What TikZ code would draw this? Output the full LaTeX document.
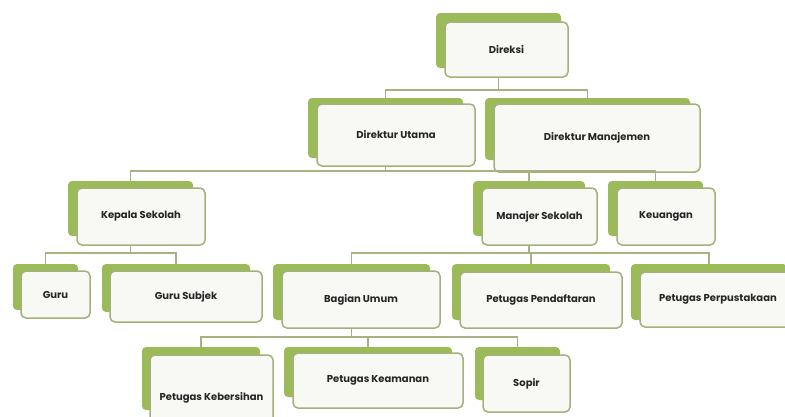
\documentclass[tikz,border=0pt]{standalone}
\usepackage{fontspec}
\setmainfont{Poppins}
\definecolor{leafgreen}{HTML}{9BBB59}
\definecolor{boxline}{HTML}{A3B27A}
\definecolor{linkline}{HTML}{A8B182}
\definecolor{boxfill}{HTML}{F8F8F5}
\definecolor{labeltext}{HTML}{262626}
\begin{document}
\begin{tikzpicture}[x=1pt,y=-1pt,
  backbox/.style={fill=leafgreen,rounded corners=4pt,inner sep=0pt},
  frontbox/.style={draw=boxline,line width=1.5pt,fill=boxfill,rounded corners=5pt,inner sep=0pt,
    font=\bfseries\fontsize{10}{12}\selectfont,text=labeltext},
  link/.style={draw=linkline,line width=1.7pt}]
\clip (0,0) rectangle (785,416);
\fill[white] (0,0) rectangle (785,416);

\node[backbox,minimum width=125,minimum height=55] (direksi-b) at (498.5,40.5) {};
\node[frontbox,minimum width=123,minimum height=55] (direksi) at (506.5,49.5) {Direksi};

\node[backbox,minimum width=155,minimum height=60] (dirut-b) at (385.5,128) {};
\node[frontbox,minimum width=158,minimum height=62] (dirut) at (396,135) {Direktur Utama};
\node[backbox,minimum width=205,minimum height=62] (dirman-b) at (587.5,129) {};
\node[frontbox,minimum width=206,minimum height=68] (dirman) at (597,138) {Direktur Manajemen};

\node[backbox,minimum width=125,minimum height=55] (kepsek-b) at (130.5,208.5) {};
\node[frontbox,minimum width=128,minimum height=57] (kepsek) at (141,216.5) {Kepala Sekolah};
\node[backbox,minimum width=112,minimum height=55] (manajer-b) at (529,208.5) {};
\node[frontbox,minimum width=115,minimum height=57] (manajer) at (539.5,216.5) {Manajer Sekolah};
\node[backbox,minimum width=95,minimum height=55] (keuangan-b) at (655.5,208.5) {};
\node[frontbox,minimum width=98,minimum height=57] (keuangan) at (666,216.5) {Keuangan};

\node[backbox,minimum width=65,minimum height=46] (guru-b) at (45.5,287) {};
\node[frontbox,minimum width=69,minimum height=47] (guru) at (55.5,294.5) {Guru};
\node[backbox,minimum width=148,minimum height=48] (gurusub-b) at (176,288) {};
\node[frontbox,minimum width=152,minimum height=51] (gurusub) at (186,296.5) {Guru Subjek};
\node[backbox,minimum width=157,minimum height=56] (umum-b) at (351.5,292) {};
\node[frontbox,minimum width=158,minimum height=57] (umum) at (361,299.5) {Bagian Umum};
\node[backbox,minimum width=158,minimum height=56] (daftar-b) at (531,292) {};
\node[frontbox,minimum width=162,minimum height=56] (daftar) at (541,300) {Petugas Pendaftaran};
\node[backbox,minimum width=156,minimum height=56] (pustaka-b) at (709,292) {};
\node[frontbox,minimum width=156,minimum height=55] (pustaka) at (718,299.5) {Petugas Perpustakaan};

\node[backbox,minimum width=118,minimum height=63] (bersih-b) at (201,378.5) {};
\node[frontbox,minimum width=123,minimum height=86] (bersih) at (211.5,398) {Petugas Kebersihan};
\node[backbox,minimum width=168,minimum height=50] (aman-b) at (368,372) {};
\node[frontbox,minimum width=170,minimum height=55] (aman) at (378,380.5) {Petugas Keamanan};
\node[backbox,minimum width=85,minimum height=53] (sopir-b) at (517.5,373.5) {};
\node[frontbox,minimum width=87,minimum height=57] (sopir) at (526.5,383.5) {Sopir};

\coordinate (bus-a) at (0,90);
\coordinate (bus-b) at (0,171);
\coordinate (bus-c) at (0,253);
\coordinate (bus-d) at (0,337);

\draw[link] (direksi-b.south |- direksi.south) -- (direksi-b.south |- bus-a) -| (dirut-b.north);
\draw[link] (direksi-b.south |- direksi.south) -- (direksi-b.south |- bus-a) -| (dirman-b.north);

\draw[link] (dirut-b.south |- dirut.south) -- (dirut-b.south |- bus-b) -| (kepsek-b.north);
\draw[link] (dirut-b.south |- dirut.south) -- (dirut-b.south |- bus-b) -| (manajer-b.north);
\draw[link] (dirut-b.south |- dirut.south) -- (dirut-b.south |- bus-b) -| (keuangan-b.north);

\draw[link] (kepsek-b.south |- kepsek.south) -- (kepsek-b.south |- bus-c) -| (guru-b.north);
\draw[link] (kepsek-b.south |- kepsek.south) -- (kepsek-b.south |- bus-c) -| (gurusub-b.north);

\draw[link] (manajer-b.south |- manajer.south) -- (manajer-b.south |- bus-c) -| (umum-b.north);
\draw[link] (manajer-b.south |- manajer.south) -- (manajer-b.south |- bus-c) -| (daftar-b.north);
\draw[link] (manajer-b.south |- manajer.south) -- (manajer-b.south |- bus-c) -| (pustaka-b.north);

\draw[link] (umum-b.south |- umum.south) -- (umum-b.south |- bus-d) -| (bersih-b.north);
\draw[link] (umum-b.south |- umum.south) -- (umum-b.south |- bus-d) -| (aman-b.north);
\draw[link] (umum-b.south |- umum.south) -- (umum-b.south |- bus-d) -| (sopir-b.north);
\end{tikzpicture}
\end{document}
